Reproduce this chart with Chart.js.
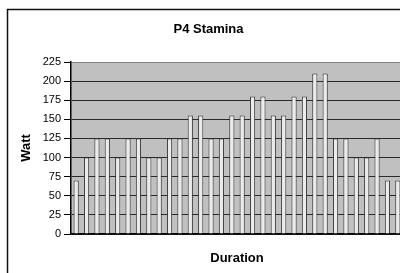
<!DOCTYPE html>
<html>
<head>
<meta charset="utf-8">
<script src="https://cdn.jsdelivr.net/npm/chart.js@4/dist/chart.umd.min.js"></script>
<style>
  html, body { margin: 0; padding: 0; background: #fff; overflow: hidden; }
  #wrap { width: 410px; height: 273px; }
</style>
</head>
<body>
<div id="wrap"><canvas id="staminaChart" width="410" height="273"></canvas></div>
<script>
// interval index along the ride (x axis has no visible labels)
const durations = ['1', '2', '3', '4', '5', '6', '7', '8', '9', '10', '11', '12', '13', '14', '15', '16',
  '17', '18', '19', '20', '21', '22', '23', '24', '25', '26', '27', '28', '29', '30', '31', '32'];
const watts = [70, 100, 125, 125, 100, 125, 125, 100, 100, 125, 125, 155, 155, 125, 125, 155,
  155, 180, 180, 155, 155, 180, 180, 210, 210, 125, 125, 100, 100, 125, 70, 70];
const wattTicks = [0, 25, 50, 75, 100, 125, 150, 175, 200, 225];

const font = 'Arial, "Liberation Sans", sans-serif';

// white sheet, black frame, grey plot area, title text
const sheet = {
  id: 'sheet',
  beforeDraw(chart) {
    const { ctx, chartArea } = chart;
    ctx.save();
    ctx.fillStyle = '#fff';
    ctx.fillRect(0, 0, chart.width, chart.height);
    ctx.fillStyle = '#c0c0c0';
    ctx.fillRect(chartArea.left, chartArea.top, chartArea.right - chartArea.left, chartArea.bottom - chartArea.top);
    ctx.strokeStyle = '#111';
    ctx.lineWidth = 1.5;
    ctx.strokeRect(7.5, 9.5, 402, 400);
    ctx.restore();
  },
  afterDraw(chart) {
    const { ctx } = chart;
    ctx.save();
    ctx.fillStyle = '#000';
    ctx.font = 'bold 13px ' + font;
    ctx.textAlign = 'center';
    ctx.textBaseline = 'middle';
    ctx.fillText('P4 Stamina', 208.5, 29);
    ctx.restore();
  }
};

new Chart(document.getElementById('staminaChart').getContext('2d'), {
  type: 'bar',
  data: {
    labels: durations,
    datasets: [{
      data: watts,
      backgroundColor: '#ebebeb',
      borderColor: '#3a3a3a',
      borderWidth: 1,
      borderSkipped: 'bottom',
      categoryPercentage: 1,
      barPercentage: 0.5
    }]
  },
  options: {
    responsive: false,
    animation: false,
    layout: { padding: { top: 62, left: 0, right: 7, bottom: 0 } },
    plugins: { legend: { display: false }, tooltip: { enabled: false }, title: { display: false } },
    scales: {
      x: {
        grid: { display: false },
        border: { display: true, color: '#000', width: 1.5 },
        ticks: { display: false },
        title: { display: true, text: 'Duration', color: '#000', font: { family: font, size: 13, weight: 'bold' }, padding: { top: 0, bottom: 7 } },
        afterFit(scale) { scale.height = 39; }
      },
      y: {
        min: 0,
        max: 225,
        afterBuildTicks(scale) { scale.ticks = wattTicks.map(v => ({ value: v })); },
        grid: {
          color: ctx => (ctx.tick && ctx.tick.value === 225 ? '#808080' : '#2a2a2a'),
          tickColor: '#000',
          tickLength: 7,
          lineWidth: 1
        },
        border: { display: true, color: '#000', width: 1.5 },
        ticks: { color: '#000', padding: 3, font: { family: font, size: 11 } },
        title: { display: true, text: 'Watt', color: '#000', font: { family: font, size: 13, weight: 'bold' }, padding: { top: 19, bottom: 0 } },
        afterFit(scale) { scale.width = 71; }
      }
    }
  },
  plugins: [sheet]
});
</script>
</body>
</html>
